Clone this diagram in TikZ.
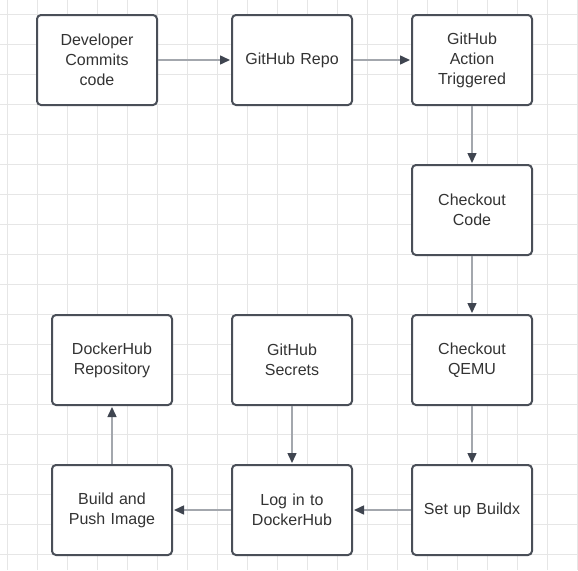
\documentclass[tikz,border=0pt]{standalone}
\usepackage{fontspec}
\setmainfont{Liberation Sans}
\usetikzlibrary{arrows.meta}
\definecolor{gridc}{HTML}{E6E6E6}
\definecolor{boxc}{HTML}{4A4F58}
\definecolor{linec}{HTML}{A3A7AD}
\definecolor{tipc}{HTML}{3F4550}
\definecolor{txtc}{HTML}{333333}
\tikzset{
  flowbox/.style={draw=boxc, line width=2pt, rounded corners=4pt, fill=white,
    minimum width=120pt, minimum height=90pt, inner sep=0pt, align=center,
    text=txtc, font=\fontsize{16}{20}\selectfont, text width=110pt},
  flow/.style={draw=linec, line width=1.5pt,
    -{Triangle[length=10pt,width=9pt,color=tipc]}, shorten >=1pt}
}
\begin{document}
\begin{tikzpicture}[x=1pt,y=-1pt]
\useasboundingbox (0,0) rectangle (578,570);
\fill[white] (0,0) rectangle (578,570);
\foreach \i in {0,...,19} {\draw[gridc, line width=1pt] (7.3+30*\i,0) -- (7.3+30*\i,570);}
\foreach \j in {0,...,18} {\draw[gridc, line width=1pt] (0,14.3+30*\j) -- (578,14.3+30*\j);}
\node[flowbox] (dev) at (97,60) {Developer\\Commits\\code};
\node[flowbox] (repo) at (292,60) {GitHub Repo};
\node[flowbox] (action) at (472,60) {GitHub\\Action\\Triggered};
\node[flowbox] (checkout) at (472,210) {Checkout\\Code};
\node[flowbox] (qemu) at (472,360) {Checkout\\QEMU};
\node[flowbox] (buildx) at (472,510) {Set up Buildx};
\node[flowbox] (secrets) at (292,360) {GitHub\\Secrets};
\node[flowbox] (login) at (292,510) {Log in to\\DockerHub};
\node[flowbox] (build) at (112,510) {Build and\\Push Image};
\node[flowbox] (hub) at (112,360) {DockerHub\\Repository};
\draw[flow] (dev) -- (repo);
\draw[flow] (repo) -- (action);
\draw[flow] (action) -- (checkout);
\draw[flow] (checkout) -- (qemu);
\draw[flow] (qemu) -- (buildx);
\draw[flow] (buildx) -- (login);
\draw[flow] (secrets) -- (login);
\draw[flow] (login) -- (build);
\draw[flow] (build) -- (hub);
\end{tikzpicture}
\end{document}
